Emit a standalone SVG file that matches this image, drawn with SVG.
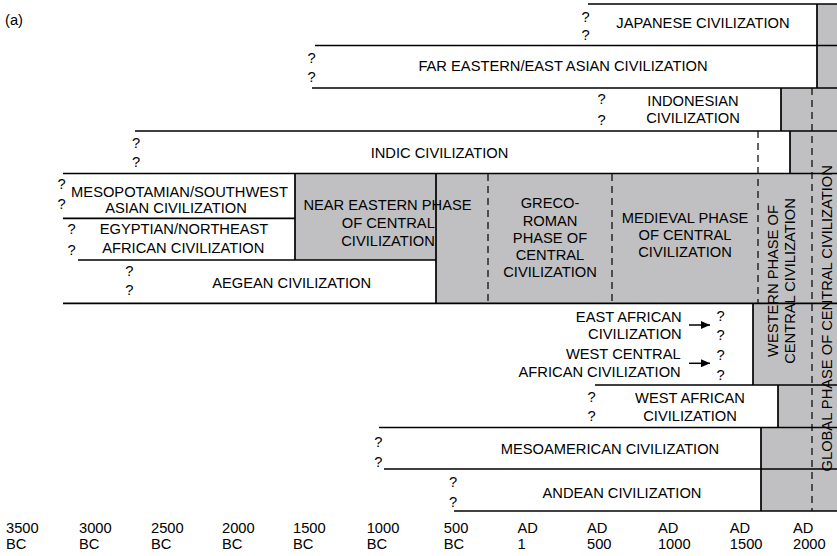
<svg xmlns="http://www.w3.org/2000/svg" width="837" height="556" viewBox="0 0 837 556">
<style>
text{font-family:"Liberation Sans",Arial,Helvetica,sans-serif;font-size:14.7px;fill:#000}
.m{text-anchor:middle}
.e{text-anchor:end}
.g{fill:#c0c0c2;stroke:none}
.s{stroke:#000;stroke-width:1.7;fill:none}
.d{stroke:#000;stroke-width:1.2;fill:none;stroke-dasharray:7 5}
.c{stroke:#000;stroke-width:1.5;fill:none}
</style>
<defs>
<marker id="ah" markerUnits="userSpaceOnUse" markerWidth="9" markerHeight="8" viewBox="0 0 9 8" refX="9" refY="4" orient="auto">
<path d="M0,0 L9,4 L0,8 Z" fill="#000"/>
</marker>
</defs>
<rect width="837" height="556" fill="#fff"/>
<text x="5" y="25">(a)</text>

<!-- phases (gray) -->
<g id="phase-near-eastern">
<polygon class="g" points="295,174 488,174 488,303 436,303 436,260 295,260"/>
<text class="m" x="387.5" y="210">NEAR EASTERN PHASE</text>
<text class="m" x="388.3" y="228.3">OF CENTRAL</text>
<text class="m" x="388" y="246">CIVILIZATION</text>
</g>
<g id="phase-greco-roman">
<rect class="g" x="488" y="174" width="124" height="129"/>
<text class="m" x="550" y="208.3">GRECO-</text>
<text class="m" x="550" y="225.5">ROMAN</text>
<text class="m" x="550" y="242.7">PHASE OF</text>
<text class="m" x="550" y="260">CENTRAL</text>
<text class="m" x="550" y="276.7">CIVILIZATION</text>
</g>
<g id="phase-medieval">
<rect class="g" x="612" y="174" width="146" height="129"/>
<text class="m" x="685" y="222.7">MEDIEVAL PHASE</text>
<text class="m" x="685" y="240">OF CENTRAL</text>
<text class="m" x="685" y="257.3">CIVILIZATION</text>
</g>
<g id="phase-western">
<polygon class="g" points="781,88 812,88 812,511 761,511 761,427.5 778,427.5 778,385 753,385 753,303 758,303 758,173.5 790,173.5 790,131 781,131"/>
</g>
<g id="phase-global">
<polygon class="g" points="817,4 837,4 837,511 812,511 812,88 817,88"/>
</g>
<line class="d" x1="488" y1="174" x2="488" y2="303"/>
<line class="d" x1="612" y1="174" x2="612" y2="303"/>
<line class="d" x1="758" y1="131" x2="758" y2="303"/>
<line class="d" x1="812" y1="88" x2="812" y2="511"/>
<text class="m" transform="translate(778.3,281) rotate(-90)">WESTERN PHASE OF</text>
<text class="m" transform="translate(795,281) rotate(-90)">CENTRAL CIVILIZATION</text>
<text class="m" transform="translate(832,318.3) rotate(-90)">GLOBAL PHASE OF CENTRAL CIVILIZATION</text>

<!-- civilizations -->
<g id="japanese">
<path class="s" d="M588,4 H837 M817,4 V88"/>
<text class="m" x="585.7" y="21.5">?</text>
<text class="m" x="585.7" y="39.5">?</text>
<text class="m" x="703" y="28.3">JAPANESE CIVILIZATION</text>
</g>
<g id="far-eastern">
<path class="s" d="M315,45.5 H837 M312,88 H837"/>
<text class="m" x="311.5" y="63.3">?</text>
<text class="m" x="311.5" y="81.7">?</text>
<text class="m" x="563" y="71">FAR EASTERN/EAST ASIAN CIVILIZATION</text>
</g>
<g id="indonesian">
<path class="s" d="M135,131 H837 M781,88 V131"/>
<text class="m" x="601.7" y="104.3">?</text>
<text class="m" x="601.7" y="125.3">?</text>
<text class="m" x="693" y="106">INDONESIAN</text>
<text class="m" x="693" y="122.7">CIVILIZATION</text>
</g>
<g id="indic">
<path class="s" d="M63,173.5 H837 M790,131 V173.5"/>
<text class="m" x="136" y="148">?</text>
<text class="m" x="136" y="167">?</text>
<text class="m" x="439.5" y="158.3">INDIC CIVILIZATION</text>
</g>
<g id="mesopotamian">
<path class="s" d="M63,218.3 H295 M295,174 V260"/>
<text class="m" x="61.5" y="189">?</text>
<text class="m" x="61.5" y="209">?</text>
<text class="m" x="179.5" y="197">MESOPOTAMIAN/SOUTHWEST</text>
<text class="m" x="176" y="212.7">ASIAN CIVILIZATION</text>
</g>
<g id="egyptian">
<path class="s" d="M78,260 H436"/>
<text class="m" x="71.5" y="233.5">?</text>
<text class="m" x="71.5" y="255">?</text>
<text class="m" x="184" y="234">EGYPTIAN/NORTHEAST</text>
<text class="m" x="183.3" y="252.5">AFRICAN CIVILIZATION</text>
</g>
<g id="aegean">
<path class="s" d="M63,303.3 H837 M436,174 V303.3"/>
<text class="m" x="129.3" y="276">?</text>
<text class="m" x="129.3" y="295">?</text>
<text class="m" x="291.7" y="288.3">AEGEAN CIVILIZATION</text>
</g>
<g id="east-african">
<path class="s" d="M753,303.3 V385"/>
<text class="e" x="681.7" y="321.7">EAST AFRICAN</text>
<text class="e" x="681.7" y="339.3">CIVILIZATION</text>
<text class="m" x="720.7" y="321">?</text>
<text class="m" x="720.7" y="339.5">?</text>
</g>
<g id="west-central-african">
<text class="e" x="680.7" y="359">WEST CENTRAL</text>
<text class="e" x="680.7" y="377">AFRICAN CIVILIZATION</text>
<text class="m" x="720.7" y="360">?</text>
<text class="m" x="720.7" y="380">?</text>
</g>
<g id="west-african">
<path class="s" d="M595,385 H837 M778,385 V427.5"/>
<text class="m" x="591.7" y="401.7">?</text>
<text class="m" x="591.7" y="420.7">?</text>
<text class="m" x="690" y="402.7">WEST AFRICAN</text>
<text class="m" x="690" y="420.7">CIVILIZATION</text>
</g>
<g id="mesoamerican">
<path class="s" d="M379,427.5 H837 M384,469 H837 M761,427.5 V511"/>
<text class="m" x="378.4" y="446.7">?</text>
<text class="m" x="378.4" y="466.7">?</text>
<text class="m" x="610" y="454">MESOAMERICAN CIVILIZATION</text>
</g>
<g id="andean">
<path class="s" d="M454,511 H837"/>
<text class="m" x="453" y="486.7">?</text>
<text class="m" x="453" y="506.7">?</text>
<text class="m" x="622" y="498.3">ANDEAN CIVILIZATION</text>
</g>

<g id="connectors">
<line class="c" x1="689" y1="325" x2="710" y2="325" marker-end="url(#ah)"/>
<line class="c" x1="689" y1="363.3" x2="710" y2="363.3" marker-end="url(#ah)"/>
</g>

<g id="axis">
<text x="6" y="532.5">3500</text><text x="6" y="548.5">BC</text>
<text x="79" y="532.5">3000</text><text x="79" y="548.5">BC</text>
<text x="151" y="532.5">2500</text><text x="151" y="548.5">BC</text>
<text x="222" y="532.5">2000</text><text x="222" y="548.5">BC</text>
<text x="293" y="532.5">1500</text><text x="293" y="548.5">BC</text>
<text x="366.7" y="532.5">1000</text><text x="366.7" y="548.5">BC</text>
<text x="443.8" y="532.5">500</text><text x="443.8" y="548.5">BC</text>
<text x="517.5" y="532.5">AD</text><text x="517.5" y="548.5">1</text>
<text x="587" y="532.5">AD</text><text x="587" y="548.5">500</text>
<text x="657.9" y="532.5">AD</text><text x="657.9" y="548.5">1000</text>
<text x="729.8" y="532.5">AD</text><text x="729.8" y="548.5">1500</text>
<text x="793" y="532.5">AD</text><text x="793" y="548.5">2000</text>
</g>
</svg>
